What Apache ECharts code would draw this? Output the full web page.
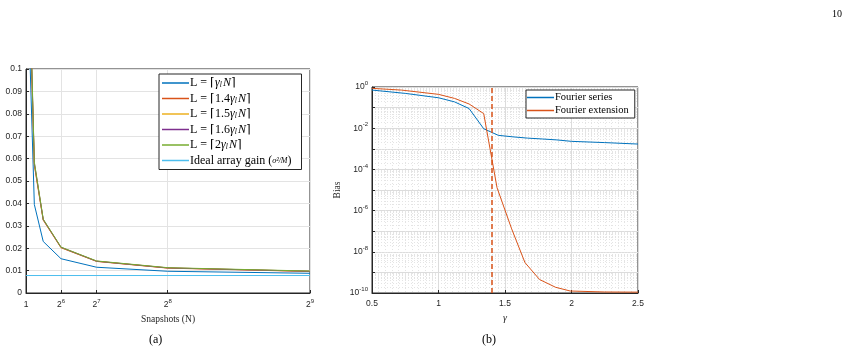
<!DOCTYPE html>
<html>
<head>
<meta charset="utf-8">
<script src="https://cdn.jsdelivr.net/npm/echarts@6/dist/echarts.min.js"></script>
<style>
  html, body { margin: 0; padding: 0; background: #fff; }
  #chart { width: 849px; height: 355px; }
</style>
</head>
<body>
<div id="chart"></div>
<script>
// ---- panel (a): error vs number of snapshots ----
var snapshots = [8, 16, 32, 64, 128, 256, 512];
var snapTicks = [1, 64, 128, 256, 512];
var snapTickText = ['{base|1}', '{base|2}{sup|6}', '{base|2}{sup|7}', '{base|2}{sup|8}', '{base|2}{sup|9}'];
var errL10 = [0.105, 0.0395, 0.023, 0.0153, 0.0115, 0.0097, 0.0088];
var errL14 = [0.128, 0.057, 0.0325, 0.0202, 0.0141, 0.0111, 0.0096];
var errL15 = [0.130, 0.0575, 0.0327, 0.0203, 0.0142, 0.0112, 0.0097];
var errL16 = [0.131, 0.058, 0.0328, 0.0204, 0.0142, 0.0112, 0.0097];
var errL20 = [0.134, 0.0585, 0.033, 0.0205, 0.0143, 0.0113, 0.0098];
var idealGain = 0.0078;
var legendA = [
  'L = ⌈{i|γ}{sub|l}{i|N}⌉',
  'L = ⌈1.4{i|γ}{sub|l}{i|N}⌉',
  'L = ⌈1.5{i|γ}{sub|l}{i|N}⌉',
  'L = ⌈1.6{i|γ}{sub|l}{i|N}⌉',
  'L = ⌈2{i|γ}{sub|l}{i|N}⌉',
  'Ideal array gain ({frac|σ²/M})'
];

// ---- panel (b): bias vs gamma ----
var gammaSer = [0.5, 0.75, 1.0, 1.12, 1.23, 1.34, 1.45, 1.56, 1.67, 1.78, 1.89, 2.0, 2.25, 2.5];
var biasSer = [0.71, 0.49, 0.30, 0.19, 0.09, 0.0094, 0.0045, 0.0038, 0.0033, 0.003, 0.0027, 0.0023, 0.002, 0.0017];
var gammaExt = [0.5, 0.72, 1.0, 1.12, 1.23, 1.34, 1.44, 1.55, 1.65, 1.76, 1.88, 1.99, 2.25, 2.5];
var biasExt = [0.86, 0.71, 0.44, 0.28, 0.15, 0.051, 1.3e-5, 1.3e-7, 3e-9, 4.5e-10, 1.9e-10, 1.25e-10, 1.12e-10, 1.1e-10];
var gammaCut = 1.4;
var legendB = ['Fourier series', 'Fourier extension'];

var colors = ['#0072BD', '#D95319', '#EDB120', '#7E2F8E', '#77AC30', '#4DBEEE'];
var axisColor = '#262626';
var sans = 'Liberation Sans';
var serif = 'Liberation Serif';

function pairs(xs, ys) {
  return xs.map(function (x, i) { return [x, ys[i]]; });
}

var chart = echarts.init(document.getElementById('chart'));

var supRich = {
  base: { fontSize: 8.5, fontFamily: sans, color: axisColor, lineHeight: 13 },
  sup: { fontSize: 6, fontFamily: sans, color: axisColor, verticalAlign: 'top', lineHeight: 13, padding: [0, 0, 5, 0] }
};

var richLegend = {
  i: { fontFamily: serif, fontStyle: 'italic', fontSize: 12, color: '#000' },
  sub: { fontFamily: serif, fontStyle: 'italic', fontSize: 7.5, color: '#000', padding: [5, 1, 0, 0] },
  frac: { fontFamily: serif, fontStyle: 'italic', fontSize: 8, color: '#000' }
};

var seriesA = [errL10, errL14, errL15, errL16, errL20].map(function (arr, k) {
  return {
    name: legendA[k], type: 'line', xAxisIndex: 0, yAxisIndex: 0,
    data: pairs(snapshots, arr), symbol: 'none', color: colors[k],
    lineStyle: { width: 1 }, clip: true, silent: true
  };
});
seriesA.push({
  name: legendA[5], type: 'line', xAxisIndex: 0, yAxisIndex: 0,
  data: [[1, idealGain], [512, idealGain]], symbol: 'none', color: colors[5],
  lineStyle: { width: 1 }, silent: true
});

var seriesB = [
  {
    name: legendB[0], type: 'line', xAxisIndex: 1, yAxisIndex: 1,
    data: pairs(gammaSer, biasSer), symbol: 'none', color: colors[0],
    lineStyle: { width: 1 }, silent: true
  },
  {
    name: legendB[1], type: 'line', xAxisIndex: 1, yAxisIndex: 1,
    data: pairs(gammaExt, biasExt), symbol: 'none', color: colors[1],
    lineStyle: { width: 1 }, silent: true,
    markLine: {
      silent: true, symbol: 'none', label: { show: false },
      lineStyle: { type: [5, 3], color: colors[1], width: 1.5 },
      data: [{ xAxis: gammaCut }]
    }
  }
];

chart.setOption({
  animation: false,
  backgroundColor: '#fff',
  grid: [
    { left: 26, right: 539, top: 69, bottom: 62, show: true, borderColor: axisColor, borderWidth: 1 },
    { left: 372, right: 211, top: 87, bottom: 62, show: true, borderColor: axisColor, borderWidth: 1 }
  ],
  legend: [
    {
      data: legendA, orient: 'vertical', left: 159, top: 74, itemGap: 3,
      icon: 'rect', itemWidth: 27, itemHeight: 1.5, padding: [3, 10, 3, 3],
      backgroundColor: '#fff', borderColor: axisColor, borderWidth: 1, borderRadius: 0,
      textStyle: { fontFamily: serif, fontSize: 12, color: '#000', padding: [0, 0, 0, -4], rich: richLegend }
    },
    {
      data: legendB, orient: 'vertical', left: 526, top: 90, itemGap: 2,
      icon: 'rect', itemWidth: 27, itemHeight: 1.5, padding: [2, 6, 2, 1],
      backgroundColor: '#fff', borderColor: axisColor, borderWidth: 1, borderRadius: 0,
      textStyle: { fontFamily: serif, fontSize: 10.5, color: '#000', padding: [0, 0, 0, -4] }
    }
  ],
  xAxis: [
    {
      type: 'value', gridIndex: 0, min: 1, max: 512,
      name: 'Snapshots (N)', nameLocation: 'middle', nameGap: 21,
      nameTextStyle: { fontFamily: serif, fontSize: 9.5, color: axisColor },
      axisLine: { lineStyle: { color: axisColor } },
      axisTick: { inside: true, length: 3, customValues: snapTicks, lineStyle: { color: axisColor } },
      axisLabel: {
        customValues: snapTicks, margin: 5,
        formatter: function (v) { return snapTickText[snapTicks.indexOf(v)] || ''; },
        rich: supRich
      },
      splitLine: { show: true, lineStyle: { color: '#e3e3e3' } }
    },
    {
      type: 'value', gridIndex: 1, min: 0.5, max: 2.5, interval: 0.5,
      name: 'γ', nameLocation: 'middle', nameGap: 18,
      nameTextStyle: { fontFamily: serif, fontSize: 10, fontStyle: 'italic', color: axisColor },
      axisLine: { lineStyle: { color: axisColor } },
      axisTick: { inside: true, length: 3, lineStyle: { color: axisColor } },
      axisLabel: { fontFamily: sans, fontSize: 8.5, color: axisColor, margin: 6 },
      splitLine: { show: true, lineStyle: { color: '#dcdcdc' } },
      minorTick: { show: false, splitNumber: 10 },
      minorSplitLine: { show: true, lineStyle: { color: '#e4e4e4', type: [1, 2] } }
    }
  ],
  yAxis: [
    {
      type: 'value', gridIndex: 0, min: 0, max: 0.1, interval: 0.01,
      axisLine: { show: true, lineStyle: { color: axisColor } },
      axisTick: { show: true, inside: true, length: 3, lineStyle: { color: axisColor } },
      axisLabel: {
        fontFamily: sans, fontSize: 8.5, color: axisColor, margin: 4,
        formatter: function (v) { return String(+v.toFixed(2)); }
      },
      splitLine: { show: true, lineStyle: { color: '#e3e3e3' } }
    },
    {
      type: 'log', gridIndex: 1, min: 1e-10, max: 1, logBase: 10, splitNumber: 10, interval: 1,
      name: 'Bias', nameLocation: 'middle', nameGap: 30, nameRotate: 90,
      nameTextStyle: { fontFamily: serif, fontSize: 9.5, color: axisColor },
      axisLine: { show: true, lineStyle: { color: axisColor } },
      axisTick: { show: true, inside: true, length: 3, lineStyle: { color: axisColor } },
      axisLabel: {
        margin: 4, rich: supRich,
        formatter: function (v) {
          var e = Math.round(Math.log10(v));
          if (e % 2 !== 0) return '';
          return '{base|10}{sup|' + (e === 0 ? '0' : '-' + (-e)) + '}';
        }
      },
      splitLine: { show: true, lineStyle: { color: '#dcdcdc' } },
      minorTick: { show: false, splitNumber: 9 },
      minorSplitLine: { show: true, lineStyle: { color: '#e4e4e4', type: [1, 2] } }
    }
  ],
  series: seriesA.concat(seriesB),
  graphic: [
    { type: 'text', left: 832, top: 9, style: { text: '10', font: '10px "Liberation Serif"', fill: '#000' } },
    { type: 'text', left: 149, top: 334, style: { text: '(a)', font: '12px "Liberation Serif"', fill: '#000' } },
    { type: 'text', left: 482, top: 334, style: { text: '(b)', font: '12px "Liberation Serif"', fill: '#000' } }
  ]
});
</script>
</body>
</html>
